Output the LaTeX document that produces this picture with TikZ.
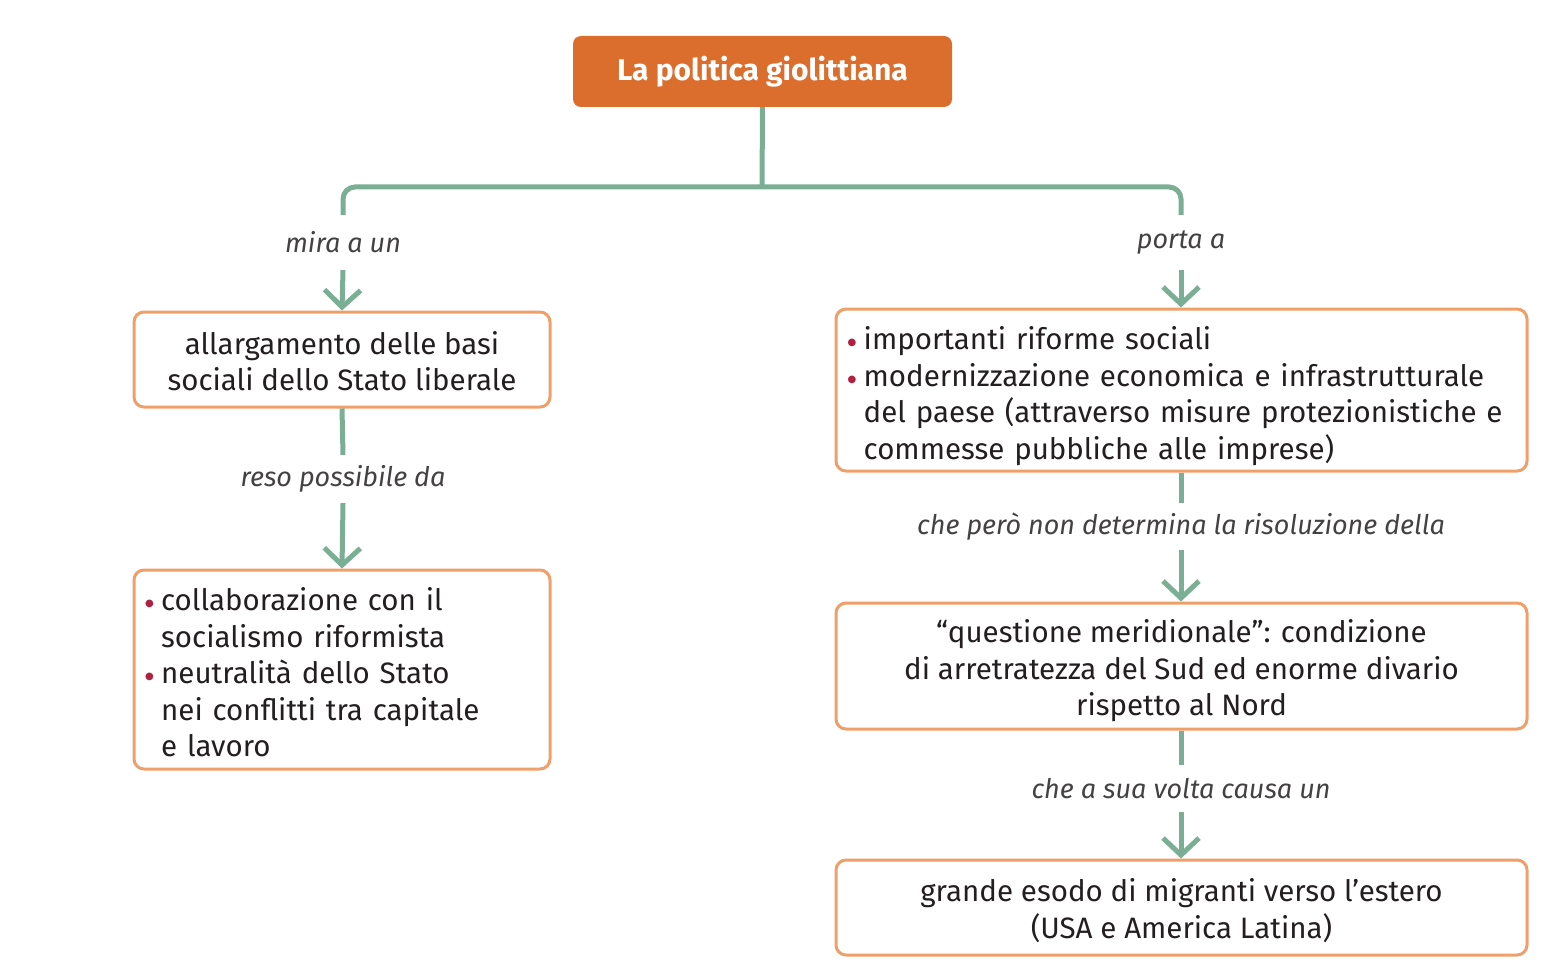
\documentclass[tikz,border=0pt]{standalone}
\usepackage{fontspec}
\setmainfont{Fira Sans}
\newfontfamily\dejavu{DejaVu Sans}
\usetikzlibrary{arrows.meta}
\definecolor{orfill}{HTML}{DB6D2D}
\definecolor{orline}{HTML}{EFA06A}
\definecolor{gline}{HTML}{7AAE95}
\definecolor{txt}{HTML}{231F20}
\definecolor{bred}{HTML}{B0203F}
\newcommand{\bul}{\makebox[16pt][l]{\color{bred}\dejavu\fontsize{10}{10}\selectfont\raisebox{4pt}{●}}}
\newcommand{\ind}{\hspace*{16pt}}
\begin{document}
\begin{tikzpicture}[x=1pt,y=-1pt,
  box/.style={draw=orline,line width=3pt,rounded corners=10pt,fill=white,inner sep=0pt},
  btext/.style={text=txt,font=\fontsize{29.5}{36.5}\selectfont,inner sep=0pt},
  lbl/.style={font=\fontsize{27}{30}\selectfont\itshape,text=txt!85,inner sep=0pt,minimum width=10pt},
  conn/.style={draw=gline,line width=5pt},
  garrow/.style={conn,-{Straight Barb[length=17pt,width=36pt,line width=5pt]}},
]
\path[use as bounding box] (0,0) rectangle (1568,976);

\node[fill=orfill,rounded corners=8pt,minimum width=379pt,minimum height=71pt,inner sep=0pt,
  text=white,font=\fontsize{30}{32}\selectfont\bfseries] (title) at (762.5,71.5) {La politica giolittiana};

\coordinate (hub) at (762,187);
\coordinate (lc) at (343,187);
\coordinate (rc) at (1181,187);

\node[lbl,minimum height=55pt] (l1) at (343,242.5) {mira a un};
\node[lbl,minimum height=55pt] (l2) at (1181,242.5) {porta a};

\node[box,minimum width=416pt,minimum height=95pt] (b1) at (342,359.5) {};
\node[btext,align=center] (t1) at (342,361) {allargamento delle basi\\sociali dello Stato liberale};

\node[lbl,minimum height=48pt] (l3) at (343,479) {reso possibile da};

\node[box,minimum width=416pt,minimum height=199pt] (b2) at (342,669.5) {};
\node[btext,text width=390pt,align=left,anchor=west] (t2) at (145,672.5)
  {\bul collaborazione con il\\\ind socialismo riformista\\\bul neutralità dello Stato\\\ind nei conflitti tra capitale\\\ind e lavoro};

\node[box,minimum width=691pt,minimum height=162pt] (b3) at (1181.5,390) {};
\node[btext,text width=668pt,align=left,anchor=west] (t3) at (847.5,396)
  {\bul importanti riforme sociali\\\bul modernizzazione economica e infrastrutturale\\\ind del paese (attraverso misure protezionistiche e\\\ind commesse pubbliche alle imprese)};

\node[lbl,minimum height=47pt] (l4) at (1181,526.5) {che però non determina la risoluzione della};

\node[box,minimum width=691pt,minimum height=126pt] (b4) at (1181.5,666) {};
\node[btext,align=center] (t4) at (1181.5,671)
  {“questione meridionale”: condizione\\di arretratezza del Sud ed enorme divario\\rispetto al Nord};

\node[lbl,minimum height=47pt] (l5) at (1181,788.5) {che a sua volta causa un};

\node[box,minimum width=691pt,minimum height=95pt] (b5) at (1181.5,907.5) {};
\node[btext,align=center] (t5) at (1181.5,910.5)
  {grande esodo di migranti verso l’estero\\(USA e America Latina)};

% connectors
\draw[conn] (title.south) -- (hub);
\draw[conn,rounded corners=12pt] (l1.north) -- (lc) -- (rc) -- (l2.north);
\draw[garrow] (l1.south) -- (b1.north);
\draw[garrow] (l2.south) -- (b3.north -| l2);
\draw[conn] (b1.south) -- (l3.north);
\draw[garrow] (l3.south) -- (b2.north);
\draw[conn] (b3.south -| l4) -- (l4.north);
\draw[garrow] (l4.south) -- (b4.north -| l4);
\draw[conn] (b4.south -| l5) -- (l5.north);
\draw[garrow] (l5.south) -- (b5.north -| l5);
\end{tikzpicture}
\end{document}
